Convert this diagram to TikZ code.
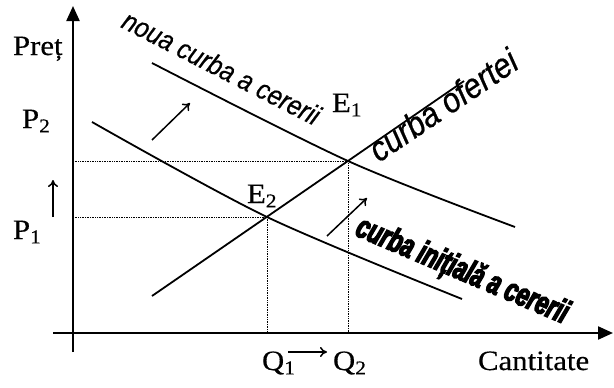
\documentclass[tikz,border=0pt]{standalone}
\usepackage{fontspec}
\setmainfont{Liberation Serif}[FakeStretch=1.1,FakeBold=0.4]
\newfontfamily\curvesans{Liberation Sans}[FakeStretch=0.88,FakeBold=0.6]
\newfontfamily\heavysans{Liberation Sans}[FakeBold=4,FakeStretch=0.67]
\usetikzlibrary{arrows.meta}

\begin{document}
\begin{tikzpicture}[
  x=1pt, y=-1pt,
  every node/.style={inner sep=0pt, outer sep=0pt},
  lbl/.style={anchor=base west, font=\fontsize{28}{30}\selectfont},
  curve lbl/.style={anchor=base west, font=\curvesans\itshape\fontsize{#1}{30}\selectfont},
  axis/.style={line width=2.2pt, -{Triangle[length=15pt,width=13pt]}},
  curve/.style={line width=1.8pt},
  guide/.style={densely dotted, line width=0.7pt},
  shift arrow/.style={line width=1.5pt, -{To[length=7pt,width=10pt]}},
]
\useasboundingbox (0,0) rectangle (614,388);

%% Axes
\coordinate (O) at (73,333);
\draw[axis] (73,352) -- (73,6);
\draw[axis] (53,333) -- (613,333);

%% Equilibrium points
\coordinate (E1) at (348,161);
\coordinate (E2) at (267,217);

%% Supply and demand curves
\draw[curve] (152,296) -- (464,81);
\draw[curve] plot[smooth] coordinates {(92,122) (E2) (462,299)};
\draw[curve] plot[smooth] coordinates {(152,63) (E1) (515,227)};

%% Dotted guides to the axes
\draw[guide] (O |- E1) -- (E1) -- (E1 |- O);
\draw[guide] (O |- E2) -- (E2) -- (E2 |- O);

%% Shift arrows
\draw[shift arrow] (152,140) -- (190,103);
\draw[shift arrow] (327,236) -- (367,198);
\draw[shift arrow] (53,217) -- (53,180);
\draw[shift arrow] (288,352) -- (327,352);

%% Axis and point labels
\node[lbl] (pret) at (13,55) {Preț};
\node[lbl] (p2) at (22,128) {P\textsubscript{2}};
\node[lbl] (p1) at (13,239) {P\textsubscript{1}};
\node[lbl] (e1) at (332,112) {E\textsubscript{1}};
\node[lbl] (e2) at (247,203) {E\textsubscript{2}};
\node[lbl] (q1) at (262,370) {Q\textsubscript{1}};
\node[lbl] (q2) at (333,370) {Q\textsubscript{2}};
\node[lbl] (cant) at (478,370) {Cantitate};

%% Curve names
\node[curve lbl=28, rotate=-27] (newdem) at (120,27) {noua curba a cererii};
\node[curve lbl=35, rotate=34] (supply) at (379,163) {curba ofertei};
\node[anchor=base west, rotate=-23,
  font=\heavysans\bfseries\itshape\fontsize{33}{35}\selectfont]
  (olddem) at (354,235) {curba inițială a cererii};

\end{tikzpicture}
\end{document}
